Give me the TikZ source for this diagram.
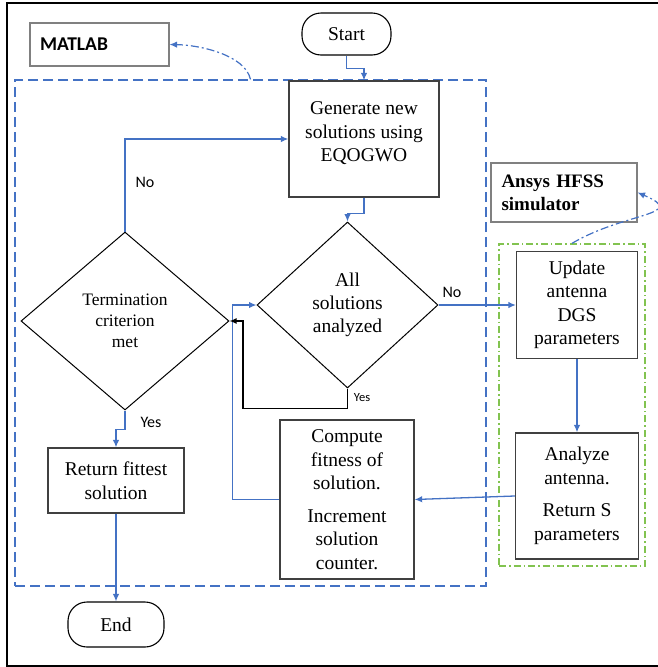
\documentclass[tikz,border=0pt]{standalone}
\usepackage{fontspec}
\setmainfont{Liberation Serif}
\newfontfamily\labelfont{Carlito}
\usetikzlibrary{shapes.geometric,arrows.meta,positioning}
\definecolor{flowblue}{RGB}{68,114,196}
\definecolor{simgreen}{RGB}{130,195,80}
\definecolor{boxgray}{RGB}{64,64,64}
\definecolor{toolgray}{RGB}{128,128,128}
\tikzset{
  procbox/.style={draw=boxgray, line width=1.3pt, rectangle, align=center, inner sep=2pt, font=\fontsize{19.5}{23.5}\selectfont},
  decision/.style={draw, diamond, line width=1pt, inner sep=0pt, align=center, font=\fontsize{19.5}{23}\selectfont},
  terminal/.style={draw, rectangle, rounded corners=19pt, line width=1.1pt, font=\fontsize{19.5}{23}\selectfont},
  toolbox/.style={draw=toolgray, line width=1.1pt, rectangle, inner xsep=10pt},
  matlabframe/.style={draw=flowblue, line width=1.3pt, dash pattern=on 10pt off 5pt, inner sep=0pt},
  hfssframe/.style={draw=simgreen, line width=1.3pt, dash pattern=on 7pt off 3pt on 1.5pt off 3pt, inner sep=0pt},
  flow/.style={draw=flowblue, line width=1.3pt, -{Latex[length=7.5pt,width=6.5pt]}},
  back/.style={draw=black, line width=1.3pt, -{Latex[length=7pt,width=6pt]}},
  toollink/.style={draw=flowblue, line width=1.2pt, dash pattern=on 8pt off 3pt on 2pt off 3pt, -{Latex[length=7.5pt,width=6.5pt]}},
  answer/.style={font=\labelfont\fontsize{16}{19}\selectfont, inner sep=0pt}
}

\begin{document}
\begin{tikzpicture}[x=1pt,y=-1pt]
\useasboundingbox (0,0) rectangle (658,667);
\draw[line width=1.2pt] (658,3) -- (7,3) -- (7,666) -- (658,666);

% tool regions
\node[matlabframe, minimum width=471pt, minimum height=506pt] (mframe) at (250.5,333) {};
\node[hfssframe, minimum width=146pt, minimum height=322pt] (sframe) at (572,405) {};
\node[toolbox, text width=119pt, align=left, minimum height=43pt, font=\labelfont\bfseries\fontsize{19.5}{23}\selectfont] (matlab) at (99.5,44.5) {MATLAB};
\node[toolbox, text width=125pt, align=left, minimum height=59pt, inner xsep=10.5pt, font=\bfseries\fontsize{19}{23}\selectfont] (ansys) at (564,192.5) {Ansys HFSS\\simulator};

% start / end
\node[terminal, minimum width=89pt, minimum height=42pt] (start) at (346.5,34) {Start};
\node[terminal, minimum width=96pt, minimum height=45pt] (stop) at (116,624.5) {End};

% steps
\node[procbox, minimum width=150pt, minimum height=116pt, text depth=14pt] (gen) at (364,139) {Generate new\\solutions using\\EQOGWO};
\node[procbox, minimum width=136pt, minimum height=65pt] (ret) at (116,480.5) {Return fittest\\solution};
\node[procbox, minimum width=134pt, minimum height=159pt] (comp) at (347,499.5) {Compute\\fitness of\\solution.\\[9pt]Increment\\solution\\counter.};
\node[procbox, minimum width=121pt, minimum height=107pt] (upd) at (577,305) {Update\\antenna\\DGS\\parameters};
\node[procbox, minimum width=123pt, minimum height=126pt] (ana) at (577,496) {Analyze\\antenna.\\[9pt]Return S\\parameters};

% decisions
\node[decision, minimum width=208pt, minimum height=178pt, font=\fontsize{17.5}{21}\selectfont] (term) at (125,321) {Termination\\criterion\\met};
\node[decision, minimum width=181pt, minimum height=166pt] (all) at (347.5,305) {All\\solutions\\analyzed};

% flow
\draw[flow] (start.south) -- ++(0,13) -| (gen.north);
\draw[flow] (gen.south) -- ++(0,16) -| (all.north);
\draw[flow] (all.east) -- (upd.west);
\draw[flow] (upd.south) -- (ana.north);
\draw[flow] (ana.west) -- (comp.east);
\draw[flow] (comp.west) -- ++(-47,0) |- (all.west);
\draw[flow] (term.north) |- (gen.west);
\draw[flow] (term.south) -- ++(0,19) -| (ret.north);
\draw[flow] (ret.south) -- (stop.north);
\coordinate (yesturn) at (243,321);
\draw[back] (all.south) -- ++(0,20) -| (yesturn) -- (term.east);

% links to tools
\draw[toollink] (mframe.north) .. controls (245,55) and (200,45) .. (matlab.east);
\draw[toollink] (sframe.north) .. controls (625,212) and (690,215) .. (ansys.east);

% answers
\node[answer] (no1) at (145,182) {No};
\node[answer] (no2) at (452,292) {No};
\node[answer] (yes1) at (151,422) {Yes};
\node[answer, font=\labelfont\fontsize{12.5}{15}\selectfont] (yes2) at (362,398) {Yes};
\end{tikzpicture}
\end{document}
